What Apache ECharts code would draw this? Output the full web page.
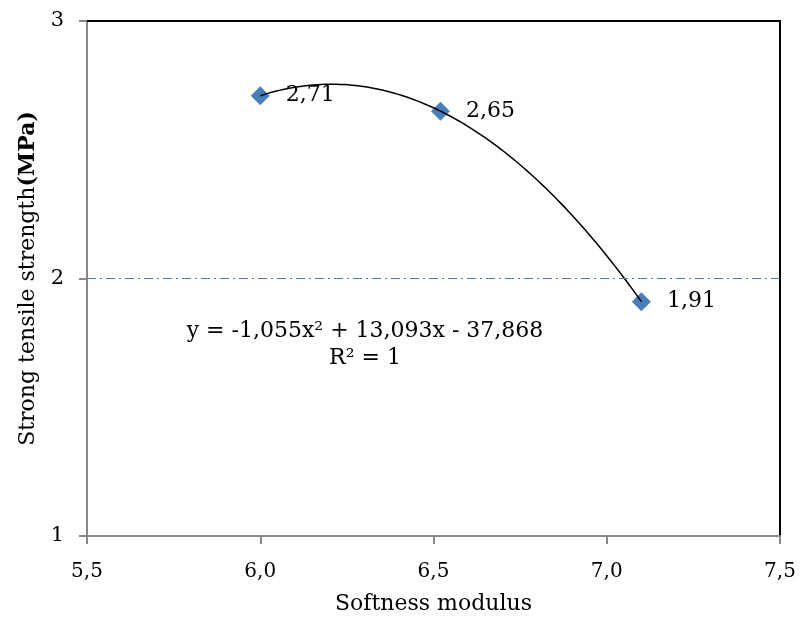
<!DOCTYPE html>
<html><head><meta charset="utf-8">
<script src="https://cdn.jsdelivr.net/npm/echarts@6/dist/echarts.min.js"></script>
<style>html,body{margin:0;padding:0;background:#fff}#c{width:800px;height:620px}</style>
</head><body><div id="c"></div>
<script>
var xValues = [6.0, 6.52, 7.1];
var yValues = [2.71, 2.65, 1.91];
var pointLabels = ['2,71', '2,65', '1,91'];
var xTicks = [5.5, 6.0, 6.5, 7.0, 7.5];
var yTicks = [1, 2, 3];
var equationText = 'y = -1,055x\u00B2 + 13,093x - 37,868';
var r2Text = 'R\u00B2 = 1';

var FONT = 'DejaVu Serif';

// Polynomial (order 2) trendline fitted from the data points (least squares)
function fitQuadratic(xs, ys) {
  var n = xs.length, S = [0,0,0,0,0], T = [0,0,0];
  for (var i = 0; i < n; i++) {
    var p = 1;
    for (var k = 0; k < 5; k++) { S[k] += p; if (k < 3) T[k] += p * ys[i]; p *= xs[i]; }
  }
  var A = [[S[0],S[1],S[2],T[0]],[S[1],S[2],S[3],T[1]],[S[2],S[3],S[4],T[2]]];
  for (var c = 0; c < 3; c++) {
    for (var r = c + 1; r < 3; r++) {
      var f = A[r][c] / A[c][c];
      for (var j = c; j < 4; j++) A[r][j] -= f * A[c][j];
    }
  }
  var b = [0,0,0];
  for (var r2 = 2; r2 >= 0; r2--) {
    var s = A[r2][3];
    for (var j2 = r2 + 1; j2 < 3; j2++) s -= A[r2][j2] * b[j2];
    b[r2] = s / A[r2][r2];
  }
  return b; // c0, c1, c2
}
var coef = fitQuadratic(xValues, yValues);
var trend = [];
var x0 = Math.min.apply(null, xValues), x1 = Math.max.apply(null, xValues);
for (var i = 0; i <= 100; i++) {
  var x = x0 + (x1 - x0) * i / 100;
  trend.push([x, coef[0] + coef[1] * x + coef[2] * x * x]);
}

var chart = echarts.init(document.getElementById('c'));
chart.setOption({
  animation: false,
  textStyle: { fontFamily: FONT },
  grid: { left: 87, right: 20, top: 21, bottom: 83, containLabel: false },
  xAxis: [{
    type: 'value', min: 5.5, max: 7.5, interval: 0.5,
    name: 'Softness modulus', nameLocation: 'middle', nameGap: 57,
    nameTextStyle: { fontFamily: FONT, fontSize: 22, color: '#000' },
    axisLine: { lineStyle: { color: '#888', width: 2 } },
    axisTick: { show: true, length: 8, lineStyle: { color: '#888', width: 2 } },
    axisLabel: { fontFamily: FONT, fontSize: 20, color: '#000', margin: 26,
      formatter: function (v) { return v.toFixed(1).replace('.', ','); } },
    splitLine: { show: false }
  }, {
    type: 'value', min: 5.5, max: 7.5, position: 'top',
    axisLine: { show: true, lineStyle: { color: '#000', width: 2 } },
    axisTick: { show: false }, axisLabel: { show: false }, splitLine: { show: false }
  }],
  yAxis: [{
    type: 'value', min: 1, max: 3, interval: 1,
    name: '{n|Strong tensile strength}{b|(MPa)}', nameLocation: 'middle', nameGap: 46, nameRotate: 90,
    nameTextStyle: { fontFamily: FONT, fontSize: 22, color: '#000',
      rich: { n: { fontFamily: FONT, fontSize: 22, color: '#000' },
              b: { fontFamily: FONT, fontSize: 22, color: '#000', fontWeight: 'bold' } } },
    axisLine: { show: true, lineStyle: { color: '#888', width: 2 } },
    axisTick: { show: true, length: 8, lineStyle: { color: '#888', width: 2 } },
    axisLabel: { fontFamily: FONT, fontSize: 21, color: '#000', margin: 23 },
    splitLine: { show: false }
  }, {
    type: 'value', min: 1, max: 3, position: 'right',
    axisLine: { show: true, lineStyle: { color: '#000', width: 2 } },
    axisTick: { show: false }, axisLabel: { show: false }, splitLine: { show: false }
  }],
  series: [{
    type: 'line', data: trend, showSymbol: false, symbol: 'none',
    lineStyle: { color: '#000', width: 1.5 }, z: 3,
    markLine: {
      silent: true, symbol: 'none', label: { show: false },
      lineStyle: { color: '#4a7ebb', width: 1.2, type: [9, 4, 2, 4] },
      data: [{ yAxis: yTicks[1] }]
    }
  }, {
    type: 'scatter',
    data: xValues.map(function (x, i) { return [x, yValues[i]]; }),
    symbol: 'diamond', symbolSize: 19,
    itemStyle: { color: '#4a7ebb', opacity: 1 }, z: 2,
    label: { show: true, position: 'right', distance: 16, fontFamily: FONT, fontSize: 22, color: '#000',
      formatter: function (p) { return pointLabels[p.dataIndex]; } }
  }],
  graphic: [{
    type: 'text', x: 365, y: 331,
    style: { text: equationText, fontFamily: FONT, fontSize: 22, fill: '#000', align: 'center', verticalAlign: 'middle' }
  }, {
    type: 'text', x: 365, y: 358,
    style: { text: r2Text, fontFamily: FONT, fontSize: 22, fill: '#000', align: 'center', verticalAlign: 'middle' }
  }]
});
</script>
</body></html>
